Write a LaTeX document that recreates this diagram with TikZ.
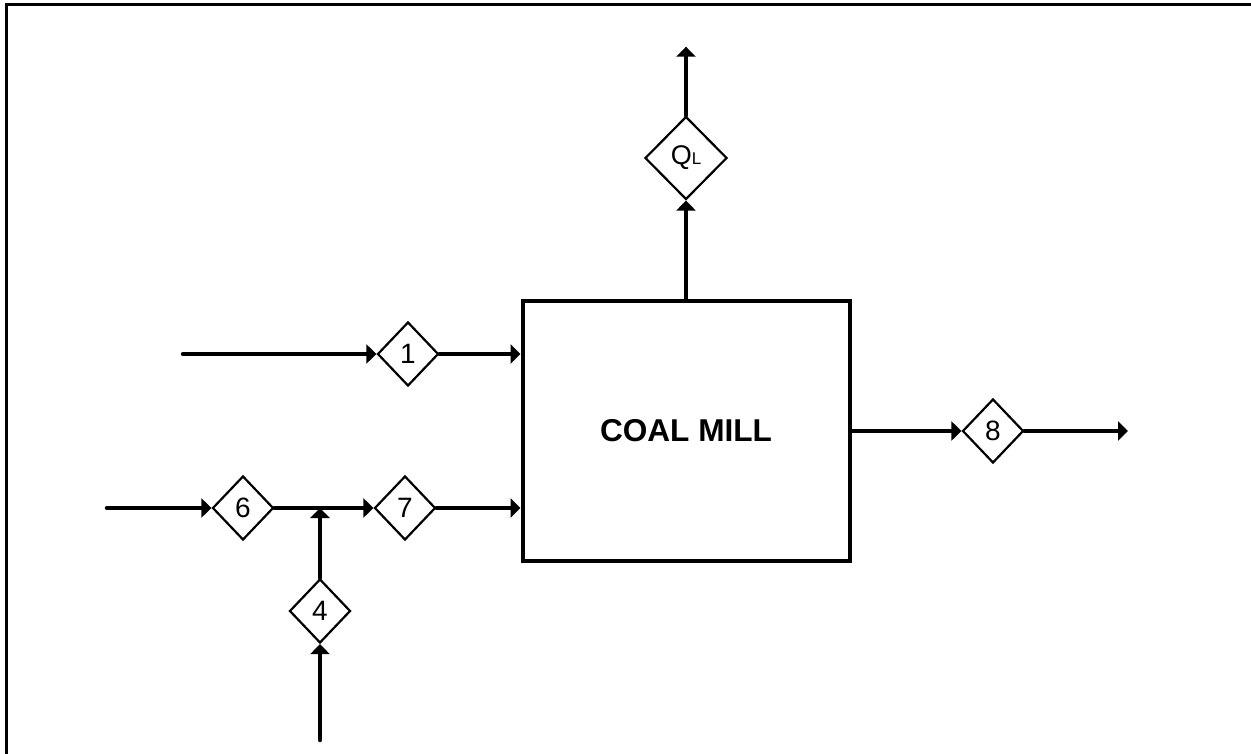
\documentclass[tikz,border=0pt]{standalone}
\usepackage{fontspec}
\setmainfont{Liberation Sans}
\usetikzlibrary{shapes.geometric,arrows.meta}
\begin{document}
\begin{tikzpicture}[x=1pt,y=-1pt,
  flow/.style={line width=4.5pt, line cap=round, -{Triangle[length=10pt,width=19pt]}},
  port/.style={diamond, draw, line width=2.2pt, minimum width=61pt, minimum height=64pt, inner sep=0pt, font=\fontsize{28}{30}\selectfont},
  bigport/.style={port, minimum width=82pt, minimum height=83pt},
  unit/.style={draw, line width=4pt, minimum width=327pt, minimum height=259.5pt, inner sep=0pt, font=\bfseries\fontsize{31.6}{36}\selectfont},
  frame/.style={line width=3pt}]
\useasboundingbox (0,0) rectangle (1251,754);
\draw[frame] (6.5,754) -- (6.5,4.5) -- (1251,4.5);

\node[unit] (mill) at (686,430.75) {COAL MILL};
\node[bigport] (ql) at (686,158) {{\fontsize{27}{28}\selectfont Q}{\fontsize{17}{18}\selectfont L}};
\node[port] (p1) at (408,354) {1};
\node[port] (p8) at (993,431) {8};
\node[port] (p6) at (243,508) {6};
\node[port] (p7) at (405,508) {7};
\node[port] (p4) at (320,611) {4};

\coordinate (s1) at (183,354);
\coordinate (s6) at (107,508);
\coordinate (s4) at (320,740);
\coordinate (e8) at (1128,431);
\coordinate (eq) at (686,46.7);
\coordinate (j) at (320,508);

\draw[flow] (s1) -- (p1.west);
\draw[flow] (p1.east) -- (mill.west |- p1.east);
\draw[flow] (mill.north) -- (ql.south);
\draw[flow] (ql.north) -- (eq);
\draw[flow] (mill.east |- p8.west) -- (p8.west);
\draw[flow] (p8.east) -- (e8);
\draw[flow] (s6) -- (p6.west);
\draw[flow] (p6.east) -- (p7.west);
\draw[flow] (p7.east) -- (mill.west |- p7.east);
\draw[flow] (p4.north) -- (j);
\draw[flow] (s4) -- (p4.south);
\end{tikzpicture}
\end{document}
